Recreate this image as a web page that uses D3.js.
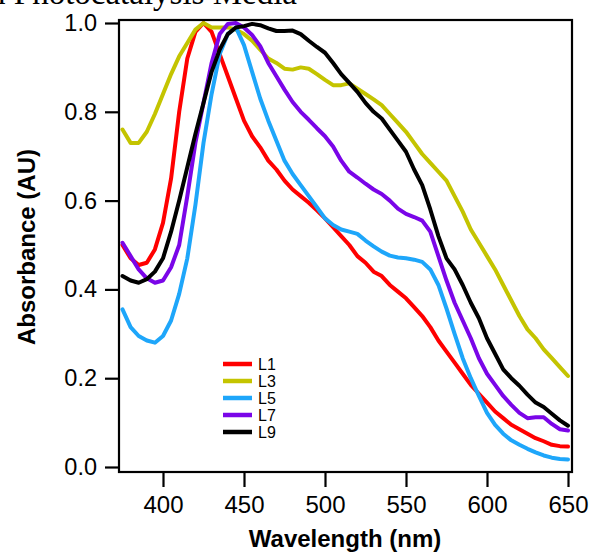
<!DOCTYPE html>
<html>
<head>
<meta charset="utf-8">
<script src="https://cdn.jsdelivr.net/npm/d3@7"></script>
<style>
  html, body { margin: 0; padding: 0; background: #fff; }
  svg { display: block; }
</style>
</head>
<body>
<svg id="chart" width="593" height="556"></svg>
<script>
const wavelengths = [375,380,385,390,395,400,405,410,415,420,425,430,435,440,445,450,455,460,465,470,475,480,485,490,495,500,505,510,515,520,525,530,535,540,545,550,555,560,565,570,575,580,585,590,595,600,605,610,615,620,625,630,635,640,645,650];

const L1 = [0.50,0.47,0.455,0.46,0.49,0.55,0.65,0.80,0.92,0.98,1.00,0.98,0.93,0.88,0.83,0.78,0.745,0.72,0.69,0.67,0.645,0.625,0.61,0.595,0.578,0.56,0.54,0.52,0.50,0.475,0.46,0.44,0.43,0.41,0.395,0.38,0.36,0.34,0.315,0.285,0.26,0.235,0.21,0.185,0.165,0.145,0.125,0.11,0.095,0.085,0.075,0.065,0.058,0.05,0.047,0.046];
const L3 = [0.76,0.73,0.73,0.755,0.795,0.84,0.885,0.925,0.955,0.985,1.0,0.99,0.99,0.99,0.985,0.975,0.96,0.94,0.92,0.91,0.897,0.895,0.90,0.897,0.885,0.872,0.86,0.86,0.864,0.852,0.84,0.828,0.815,0.795,0.775,0.755,0.73,0.705,0.685,0.665,0.645,0.61,0.575,0.535,0.505,0.475,0.445,0.41,0.375,0.34,0.31,0.29,0.265,0.245,0.225,0.205];
const L5 = [0.355,0.315,0.295,0.285,0.28,0.295,0.33,0.39,0.47,0.59,0.73,0.84,0.93,0.975,0.99,0.95,0.89,0.83,0.78,0.735,0.69,0.66,0.635,0.61,0.585,0.56,0.545,0.535,0.53,0.525,0.51,0.497,0.485,0.476,0.472,0.47,0.467,0.462,0.445,0.41,0.357,0.30,0.245,0.20,0.16,0.122,0.095,0.075,0.06,0.05,0.041,0.033,0.026,0.021,0.018,0.017];
const L7 = [0.505,0.475,0.445,0.425,0.415,0.42,0.45,0.50,0.61,0.73,0.82,0.91,0.975,0.998,1.0,0.99,0.973,0.948,0.91,0.88,0.85,0.822,0.80,0.782,0.763,0.745,0.722,0.69,0.665,0.652,0.638,0.625,0.615,0.60,0.582,0.57,0.563,0.555,0.53,0.475,0.42,0.37,0.33,0.29,0.245,0.21,0.185,0.16,0.14,0.122,0.11,0.112,0.112,0.097,0.085,0.082];
const L9 = [0.43,0.42,0.415,0.423,0.44,0.47,0.53,0.60,0.675,0.75,0.82,0.89,0.94,0.975,0.99,0.993,0.998,0.995,0.988,0.982,0.982,0.983,0.975,0.96,0.946,0.933,0.91,0.885,0.865,0.845,0.82,0.80,0.785,0.76,0.735,0.71,0.67,0.635,0.58,0.52,0.47,0.445,0.41,0.37,0.335,0.29,0.255,0.22,0.20,0.183,0.163,0.145,0.135,0.12,0.105,0.093];

const seriesNames = ["L1","L3","L5","L7","L9"];
const seriesValues = [L1, L3, L5, L7, L9];
const seriesColors = ["#ff0000","#c4c400","#1ea6fa","#7a05e8","#000000"];

const xTicks = [400,450,500,550,600,650];
const yTicks = [0.0,0.2,0.4,0.6,0.8,1.0];

const titleText = "in Photocatalysis Media";
const xLabel = "Wavelength (nm)";
const yLabel = "Absorbance (AU)";

const svg = d3.select("#chart");
const frame = {left:119, right:572, top:20, bottom:472};

const x = d3.scaleLinear().domain([400,650]).range([163,568]);
const y = d3.scaleLinear().domain([0,1]).range([467,23]);

// title (cut off at top, as in the source)
svg.append("text")
  .attr("x", 297).attr("y", 4)
  .attr("text-anchor","end")
  .attr("font-family","'Liberation Serif','Times New Roman',serif")
  .attr("font-size", 33)
  .attr("fill","#000")
  .text(titleText);

svg.append("clipPath").attr("id","plotclip")
  .append("rect").attr("x",frame.left).attr("y",frame.top)
  .attr("width",frame.right-frame.left).attr("height",frame.bottom-frame.top);

const line = d3.line()
  .x((d,i)=>x(wavelengths[i]))
  .y(d=>y(d));

svg.append("g").attr("clip-path","url(#plotclip)")
  .selectAll("path").data(seriesValues).join("path")
  .attr("d", d=>line(d))
  .attr("fill","none")
  .attr("stroke",(d,i)=>seriesColors[i])
  .attr("stroke-width",4)
  .attr("stroke-linejoin","round")
  .attr("stroke-linecap","round");

svg.append("rect")
  .attr("x",frame.left).attr("y",frame.top)
  .attr("width",frame.right-frame.left).attr("height",frame.bottom-frame.top)
  .attr("fill","none").attr("stroke","#000").attr("stroke-width",2.2);

const yAxis = d3.axisLeft(y).tickValues(yTicks).tickFormat(d3.format(".1f"))
  .tickSize(14).tickPadding(8);
const yg = svg.append("g").attr("transform",`translate(${frame.left},0)`).call(yAxis);
yg.select(".domain").remove();
yg.selectAll(".tick line").attr("stroke","#000").attr("stroke-width",2.2);
yg.selectAll(".tick text")
  .attr("font-family","'Liberation Sans',Arial,sans-serif")
  .attr("font-size",23.5).attr("fill","#000");

const xAxis = d3.axisBottom(x).tickValues(xTicks).tickFormat(d3.format("d"))
  .tickSize(15).tickPadding(9);
const xg = svg.append("g").attr("transform",`translate(0,${frame.bottom})`).call(xAxis);
xg.select(".domain").remove();
xg.selectAll(".tick line").attr("stroke","#000").attr("stroke-width",2.2);
xg.selectAll(".tick text")
  .attr("font-family","'Liberation Sans',Arial,sans-serif")
  .attr("font-size",24).attr("fill","#000");

svg.append("text")
  .attr("x",345).attr("y",547)
  .attr("text-anchor","middle")
  .attr("font-family","'Liberation Sans',Arial,sans-serif")
  .attr("font-weight","bold").attr("font-size",24)
  .attr("fill","#000")
  .text(xLabel);

svg.append("text")
  .attr("transform","translate(35,247) rotate(-90)")
  .attr("text-anchor","middle")
  .attr("font-family","'Liberation Sans',Arial,sans-serif")
  .attr("font-weight","bold").attr("font-size",24)
  .attr("fill","#000")
  .text(yLabel);

const legend = svg.append("g").attr("transform","translate(223,364)");
const rows = legend.selectAll("g").data(seriesNames).join("g")
  .attr("transform",(d,i)=>`translate(0,${i*17})`);
rows.append("line").attr("x1",0).attr("x2",29).attr("y1",0).attr("y2",0)
  .attr("stroke",(d,i)=>seriesColors[i]).attr("stroke-width",4.5);
rows.append("text").attr("x",35).attr("y",0).attr("dy","0.36em")
  .attr("font-family","'Liberation Sans',Arial,sans-serif")
  .attr("font-size",16).attr("fill","#000")
  .text(d=>d);
</script>
</body>
</html>
